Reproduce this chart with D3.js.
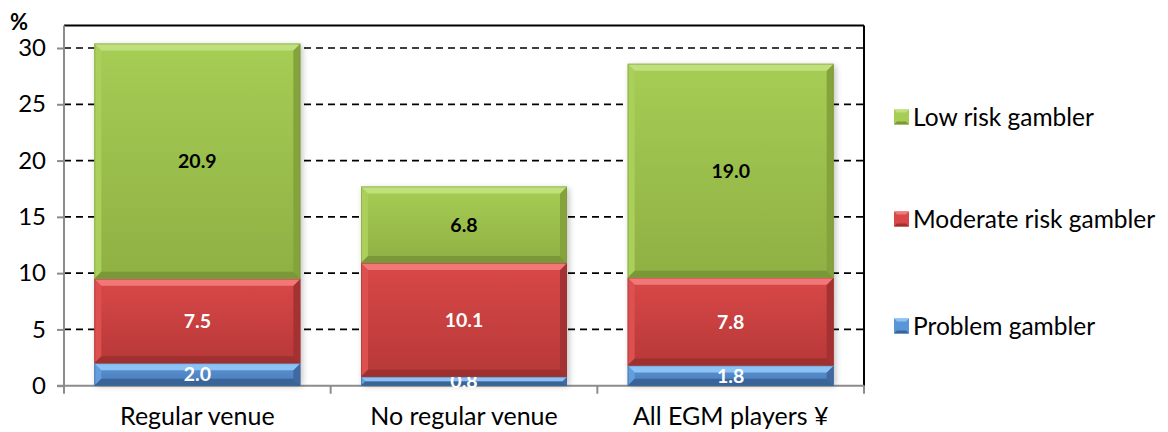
<!DOCTYPE html>
<html>
<head>
<meta charset="utf-8">
<script src="https://cdn.jsdelivr.net/npm/d3@7"></script>
<style>
  html, body { margin: 0; padding: 0; background: #fff; }
  svg { display: block; }
  text { font-family: Lato, "Open Sans", "Noto Sans", sans-serif; }
</style>
</head>
<body>
<svg id="chart" width="1168" height="432"></svg>
<script>
// Gambler risk profile of EGM players, by venue type (%)
const categories = ["Regular venue", "No regular venue", "All EGM players ¥"];
const problemGambler = [2.0, 0.8, 1.8];
const moderateRisk = [7.5, 10.1, 7.8];
const lowRisk = [20.9, 6.8, 19.0];
const seriesNames = ["Problem gambler", "Moderate risk gambler", "Low risk gambler"];
const yTicks = [0, 5, 10, 15, 20, 25, 30];

const palette = {
  "Problem gambler":      { top: "#8cc3f4", b0: "#5a95d8", b1: "#4a7ab5", bottom: "#3a6498", left: "#639ddc", right: "#42699f", label: "#ffffff" },
  "Moderate risk gambler":{ top: "#f27878", b0: "#d94848", b1: "#b73838", bottom: "#9e3030", left: "#dc5050", right: "#a53232", label: "#ffffff" },
  "Low risk gambler":     { top: "#c0e07e", b0: "#a6cd54", b1: "#8fb044", bottom: "#7a9838", left: "#aacf5a", right: "#85a33c", label: "#000000" }
};

const svg = d3.select("#chart");
const plot = { left: 64, right: 864, top: 25.5, bottom: 385.7 };

const x = d3.scaleBand().domain(categories)
  .range([plot.left, plot.right]).paddingInner(0.2275).paddingOuter(0.11375);
const y = d3.scaleLinear().domain([0, 32]).range([plot.bottom, plot.top]);

const table = categories.map((c, i) => ({
  category: c,
  "Problem gambler": problemGambler[i],
  "Moderate risk gambler": moderateRisk[i],
  "Low risk gambler": lowRisk[i]
}));
const stacked = d3.stack().keys(seriesNames)(table);

// defs: body gradients and soft shadow
const defs = svg.append("defs");
seriesNames.forEach((s, i) => {
  const g = defs.append("linearGradient").attr("id", "body" + i)
    .attr("x1", 0).attr("y1", 0).attr("x2", 0).attr("y2", 1);
  g.append("stop").attr("offset", "0%").attr("stop-color", palette[s].b0);
  g.append("stop").attr("offset", "100%").attr("stop-color", palette[s].b1);
});
const shadow = defs.append("filter").attr("id", "shadow")
  .attr("x", "-10%").attr("y", "-10%").attr("width", "130%").attr("height", "130%");
shadow.append("feGaussianBlur").attr("stdDeviation", 3);

// plot frame: black top and right, grey axis lines
svg.append("line").attr("x1", plot.left).attr("x2", plot.right)
  .attr("y1", plot.top).attr("y2", plot.top).attr("stroke", "#000").attr("stroke-width", 2);
svg.append("line").attr("x1", plot.right).attr("x2", plot.right)
  .attr("y1", plot.top).attr("y2", plot.bottom).attr("stroke", "#000").attr("stroke-width", 2);

// dashed gridlines
svg.append("g").selectAll("line").data(yTicks.filter(d => d > 0)).join("line")
  .attr("x1", plot.left).attr("x2", plot.right)
  .attr("y1", d => y(d)).attr("y2", d => y(d))
  .attr("stroke", "#000").attr("stroke-width", 1.7).attr("stroke-dasharray", "7,5");

// y axis
const yAxis = svg.append("g").attr("transform", `translate(${plot.left},0)`)
  .call(d3.axisLeft(y).tickValues(yTicks).tickSize(7).tickPadding(11).tickFormat(d3.format("d")));
yAxis.select(".domain").attr("stroke", "#8c8c8c").attr("stroke-width", 2)
  .attr("d", `M0,${plot.top}V${plot.bottom}`);
yAxis.selectAll(".tick line").attr("stroke", "#8c8c8c").attr("stroke-width", 2);
yAxis.selectAll(".tick text").attr("font-size", 24).attr("fill", "#000")
  .style("font-family", "Lato, 'Open Sans', sans-serif");

// x axis with ticks at category boundaries
const xAxis = svg.append("g").attr("transform", `translate(0,${plot.bottom})`);
xAxis.append("line").attr("x1", plot.left - 7).attr("x2", plot.right)
  .attr("stroke", "#8c8c8c").attr("stroke-width", 2);
const bounds = [plot.left, ...categories.map(c => x(c) + x.bandwidth() + x.step() * x.paddingInner() / 2)];
xAxis.selectAll(".bt").data(bounds).join("line").attr("class", "bt")
  .attr("x1", d => d).attr("x2", d => d).attr("y1", 0).attr("y2", 8)
  .attr("stroke", "#8c8c8c").attr("stroke-width", 2);
xAxis.selectAll(".cat").data(categories).join("text").attr("class", "cat")
  .attr("x", d => x(d) + x.bandwidth() / 2).attr("y", 39)
  .attr("text-anchor", "middle").attr("font-size", 25).attr("fill", "#000")
  .text(d => d);

// unit label
svg.append("text").attr("x", 10).attr("y", 30).attr("font-size", 22)
  .attr("font-weight", "bold").text("%");

// bar shadows
svg.append("g").selectAll("rect").data(table).join("rect")
  .attr("x", d => x(d.category) + 2)
  .attr("y", d => y(stacked[2][table.indexOf(d)][1]) + 2)
  .attr("width", x.bandwidth())
  .attr("height", d => plot.bottom - y(stacked[2][table.indexOf(d)][1]) - 2)
  .attr("fill", "#000").attr("opacity", 0.25).attr("filter", "url(#shadow)");

// bevelled bar segments
const bars = svg.append("g");
stacked.forEach((layer, si) => {
  const s = layer.key, p = palette[s];
  layer.forEach((seg, ci) => {
    const x0 = x(categories[ci]), w = x.bandwidth();
    const y0 = y(seg[1]), h = y(seg[0]) - y(seg[1]);
    const b = Math.min(7, h / 2, w / 2);
    const g = bars.append("g");
    g.append("rect").attr("x", x0).attr("y", y0).attr("width", w).attr("height", h)
      .attr("fill", `url(#body${si})`);
    const poly = (pts, fill) => g.append("polygon")
      .attr("points", pts.map(q => q.join(",")).join(" ")).attr("fill", fill);
    poly([[x0, y0], [x0 + b, y0 + b], [x0 + b, y0 + h - b], [x0, y0 + h]], p.left);
    poly([[x0 + w, y0], [x0 + w - b, y0 + b], [x0 + w - b, y0 + h - b], [x0 + w, y0 + h]], p.right);
    poly([[x0, y0 + h], [x0 + b, y0 + h - b], [x0 + w - b, y0 + h - b], [x0 + w, y0 + h]], p.bottom);
    poly([[x0, y0], [x0 + w, y0], [x0 + w - b, y0 + b], [x0 + b, y0 + b]], p.top);
    g.append("rect").attr("x", x0 + 0.5).attr("y", y0 + 0.5).attr("width", w - 1).attr("height", h - 1)
      .attr("fill", "none").attr("stroke", p.bottom).attr("stroke-opacity", 0.5);
    g.append("text").attr("x", x0 + w / 2).attr("y", y0 + h / 2)
      .attr("dy", "0.36em").attr("text-anchor", "middle")
      .attr("font-size", 19.5).attr("font-weight", "bold").attr("fill", p.label)
      .text(d3.format(".1f")(seg.data[s]));
  });
});

// legend, top to bottom: low, moderate, problem
const legendY = [117, 219, 326];
const legendOrder = seriesNames.slice().reverse();
const legend = svg.append("g").selectAll("g").data(legendOrder).join("g")
  .attr("transform", (d, i) => `translate(894,${legendY[i]})`);
legend.each(function (d) {
  const g = d3.select(this), p = palette[d], s = 15, b = 3;
  g.append("rect").attr("x", 0).attr("y", -s / 2).attr("width", s).attr("height", s).attr("fill", p.b0);
  g.append("polygon").attr("points", `0,${-s/2} ${s},${-s/2} ${s-b},${-s/2+b} ${b},${-s/2+b}`).attr("fill", p.top);
  g.append("polygon").attr("points", `0,${s/2} ${s},${s/2} ${s-b},${s/2-b} ${b},${s/2-b}`).attr("fill", p.bottom);
  g.append("text").attr("x", 19).attr("dy", "0.36em").attr("font-size", 24.5).attr("fill", "#000").text(d);
});
</script>
</body>
</html>
